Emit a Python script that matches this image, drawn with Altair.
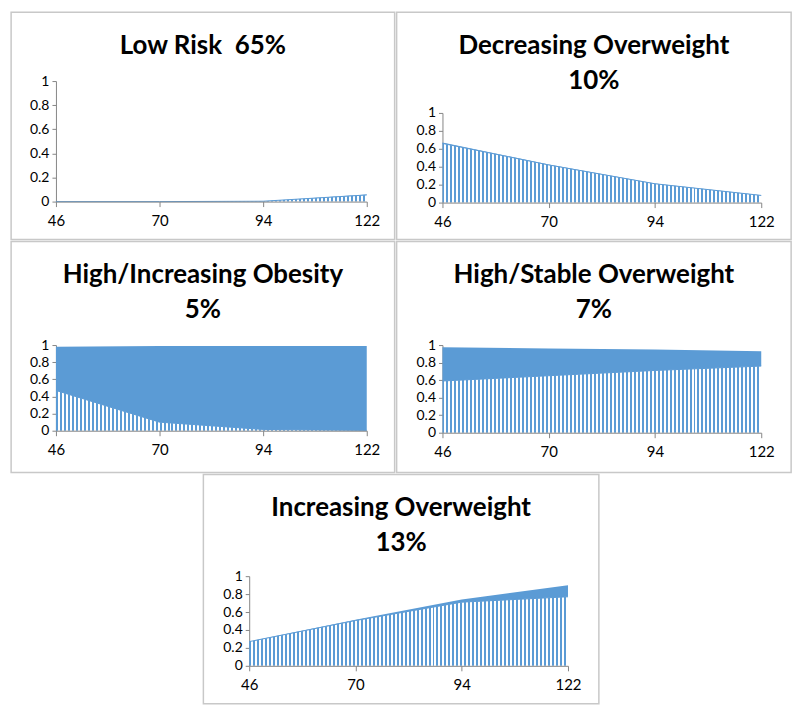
import altair as alt
import pandas as pd

# ---------------- data ----------------
AGES = ["46", "70", "94", "122"]
Y_TICKS = [0, 0.2, 0.4, 0.6, 0.8, 1]

TITLES = [
    "Low Risk \u00a065%",
    "Decreasing Overweight\n10%",
    "High/Increasing Obesity\n5%",
    "High/Stable Overweight\n7%",
    "Increasing Overweight\n13%",
]

LOW_RISK_OVERWEIGHT = [0.0, 0.0, 0.003, 0.055]
LOW_RISK_OBESE = [0.0, 0.0, 0.0, 0.004]

DECREASING_OVERWEIGHT = [0.66, 0.42, 0.21, 0.08]
DECREASING_OBESE = [0.01, 0.006, 0.004, 0.003]

HIGH_INC_OBESITY_OVERWEIGHT = [0.47, 0.10, 0.015, 0.004]
HIGH_INC_OBESITY_OBESE = [0.51, 0.89, 0.975, 0.986]

HIGH_STABLE_OVERWEIGHT = [0.59, 0.65, 0.71, 0.76]
HIGH_STABLE_OBESE = [0.385, 0.31, 0.24, 0.17]

INCREASING_OVERWEIGHT = [0.27, 0.505, 0.71, 0.77]
INCREASING_OBESE = [0.0, 0.01, 0.03, 0.13]

# ---------------- style ----------------
BLUE = "#5B9BD5"
AXIS_GRAY = "#868686"
FRAME_GRAY = "#C8C8C8"
FONT = "Lato"


def stripes(n, frac=0.5):
    stops = []
    for i in range(n):
        a = i / n
        b = (i + frac) / n
        c = (i + 1) / n
        stops += [
            {"offset": round(a, 6), "color": BLUE},
            {"offset": round(b, 6), "color": BLUE},
            {"offset": round(b, 6), "color": "white"},
            {"offset": round(c, 6), "color": "white"},
        ]
    return {"gradient": "linear", "x1": 0, "x2": 1, "y1": 0, "y2": 0, "stops": stops}


def make_panel(title, ow, ob, W, H, y_zero, y_one, x_left, x_right):
    df = pd.DataFrame({"age": AGES, "overweight": ow, "obese": ob})
    df["total"] = df["overweight"] + df["obese"]

    xscale = alt.Scale(type="point", domain=AGES, range=[x_left, x_right], padding=0)
    yscale = alt.Scale(domain=[0, 1], range=[y_zero, y_one])
    xaxis = alt.Axis(
        title=None, labelAngle=0, offset=-(H - y_zero), grid=False,
        domainColor=AXIS_GRAY, tickColor=AXIS_GRAY, tickSize=5,
        labelPadding=7, labelFont=FONT, labelFontSize=15, labelColor="#000000",
        labelOverlap=False, zindex=1,
    )
    yaxis = alt.Axis(
        title=None, values=Y_TICKS, format="~g", offset=-x_left, grid=False,
        domainColor=AXIS_GRAY, tickColor=AXIS_GRAY, tickSize=4,
        labelPadding=3, labelFont=FONT, labelFontSize=14, labelColor="#000000",
        labelOverlap=False,
    )
    X = alt.X("age:O", sort=AGES, scale=xscale, axis=xaxis)

    base = alt.Chart(df)
    hatched = base.mark_area(fill=stripes(round((x_right - x_left) / 4))).encode(
        x=X, y=alt.Y("overweight:Q", scale=yscale, axis=yaxis)
    )
    solid = base.mark_area(color=BLUE, opacity=1).encode(
        x=X, y=alt.Y("total:Q", scale=yscale, axis=yaxis), y2="overweight:Q"
    )
    edge = base.mark_line(color=BLUE, strokeWidth=1).encode(
        x=X, y=alt.Y("overweight:Q", scale=yscale, axis=yaxis)
    )
    title_mark = alt.Chart(pd.DataFrame({"title": [title]})).mark_text(
        font=FONT, fontSize=26, fontWeight="bold", color="#000000",
        align="center", baseline="alphabetic", lineBreak="\n", lineHeight=35,
    ).encode(x=alt.value(W / 2), y=alt.value(42), text="title:N")

    return alt.layer(hatched, solid, edge, title_mark).properties(width=W, height=H)


p1 = make_panel(TITLES[0], LOW_RISK_OVERWEIGHT, LOW_RISK_OBESE, 385, 228, 190, 69, 45, 357)
p2 = make_panel(TITLES[1], DECREASING_OVERWEIGHT, DECREASING_OBESE, 396, 228, 191, 101, 46, 366)
p3 = make_panel(TITLES[2], HIGH_INC_OBESITY_OVERWEIGHT, HIGH_INC_OBESITY_OBESE, 385, 232, 190, 104, 45, 357)
p4 = make_panel(TITLES[3], HIGH_STABLE_OVERWEIGHT, HIGH_STABLE_OBESE, 396, 232, 192, 104, 46, 366)
p5 = make_panel(TITLES[4], INCREASING_OVERWEIGHT, INCREASING_OBESE, 397, 230, 192, 102, 46, 366)

chart = alt.vconcat(
    alt.hconcat(p1, p2, spacing=0),
    alt.hconcat(p3, p4, spacing=0),
    p5,
    spacing=0,
    center=True,
).properties(
    padding={"left": 2, "top": 2, "right": 0, "bottom": 0},
    background="white",
).configure_view(
    stroke=FRAME_GRAY, strokeWidth=1.5
)

chart.save("out.html", embed_options={"renderer": "svg", "actions": False})
